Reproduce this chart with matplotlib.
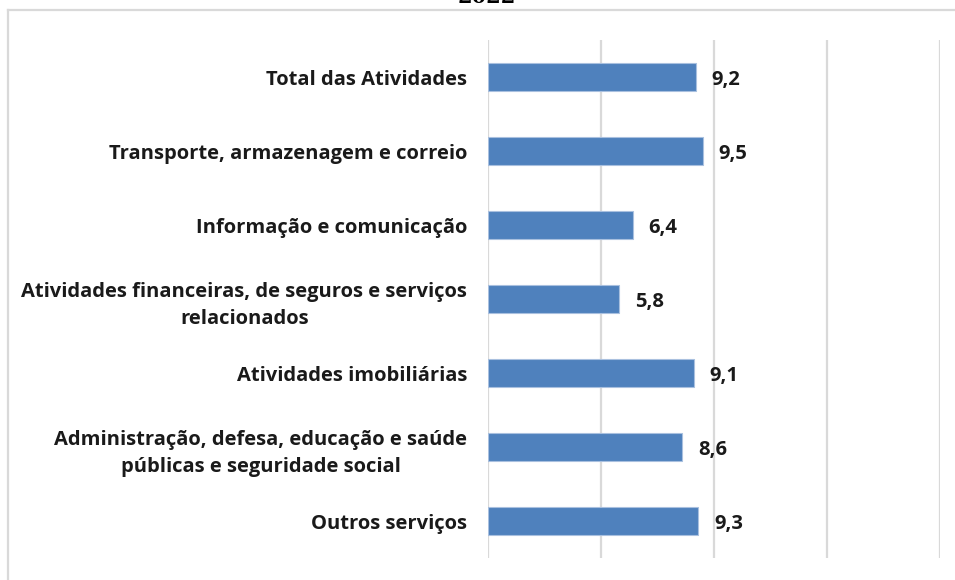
import matplotlib
matplotlib.use('Agg')
import matplotlib.pyplot as plt
from matplotlib.lines import Line2D

categories = [
    'Total das Atividades',
    'Transporte, armazenagem e correio',
    'Informação e comunicação',
    'Atividades financeiras, de seguros e serviços\nrelacionados',
    'Atividades imobiliárias',
    'Administração, defesa, educação e saúde\npúblicas e seguridade social',
    'Outros serviços',
]
values = [9.2, 9.5, 6.4, 5.8, 9.1, 8.6, 9.3]
value_labels = ['9,2', '9,5', '6,4', '5,8', '9,1', '8,6', '9,3']
title = '2022'

plt.rcParams['font.family'] = ['Open Sans', 'DejaVu Sans']
fsize = 14.5

fig = plt.figure(figsize=(9.55, 5.8), dpi=100)
ax = fig.add_axes([488 / 955, 1 - 558 / 580, (940 - 488) / 955, (558 - 40) / 580])

ypos = list(range(len(categories)))
ax.barh(ypos, values, height=0.39, color='#4f81bd', edgecolor='#a9c0df', linewidth=0.8, zorder=3)

for y, v, lab in zip(ypos, values, value_labels):
    ax.text(v + 0.7, y, lab, va='center_baseline', ha='left', fontsize=fsize, fontweight='bold', color='#1a1a1a')

ax.set_xlim(0, 20)
ax.set_ylim(len(categories) - 0.5, -0.5)
ax.set_xticks([0, 5, 10, 15, 20])
ax.set_xticklabels([])
ax.grid(axis='x', color='#d9d9d9', linewidth=1.6, zorder=0)
ax.tick_params(axis='both', length=0)
ax.tick_params(axis='y', pad=15)
ax.set_yticks(ypos)
ax.set_yticklabels(categories, fontsize=fsize, fontweight='bold', color='#1a1a1a',
                   multialignment='center', linespacing=1.5)
for s in ax.spines.values():
    s.set_visible(False)

# outer chart border (only left and top visible in crop)
fig.add_artist(Line2D([8 / 955, 8 / 955], [0, 1 - 10 / 580], color='#d9d9d9', linewidth=1.6, transform=fig.transFigure))
fig.add_artist(Line2D([8 / 955, 1], [1 - 10 / 580, 1 - 10 / 580], color='#d9d9d9', linewidth=1.6, transform=fig.transFigure))

fig.text(487 / 955, 1 + 3 / 580, title, ha='center', va='center', fontsize=15, fontweight='bold',
         family='DejaVu Serif')

fig.savefig('out.png', dpi=100)
